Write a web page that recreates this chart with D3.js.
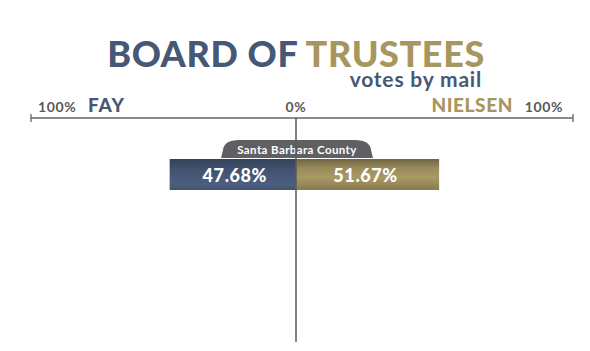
<!DOCTYPE html>
<html>
<head>
<meta charset="utf-8">
<script src="https://cdn.jsdelivr.net/npm/d3@7"></script>
<style>
  body { margin: 0; background: #fff; }
  svg text { font-family: Lato, "Open Sans", sans-serif; }
</style>
</head>
<body>
<div id="chart"></div>
<script>
// Board of Trustees - votes by mail

var width = 590;
var height = 351;

// data
var candidates = ["FAY", "NIELSEN"];
var regions = ["Santa Barbara County"];
var votes = [[47.68, 51.67]];   // one row per region: [fay, nielsen]
var tickLabels = ["100%", "0%", "100%"];

var navy = "#465876";
var gold = "#a89660";

var cx = 296;
var axisY = 118;

var svg = d3.select("#chart")
            .append("svg")
            .attr("width", width)
            .attr("height", height);

var defs = svg.append("defs");
function gradient(id, stops) {
    var g = defs.append("linearGradient").attr("id", id)
                .attr("x1", 0).attr("y1", 0).attr("x2", 0).attr("y2", 1);
    stops.forEach(function(s) {
        g.append("stop").attr("offset", s[0]).attr("stop-color", s[1]);
    });
}
gradient("gFay", [[0, "#34415a"], [0.35, "#42526f"], [0.8, "#4c5f80"], [1, "#435472"]]);
gradient("gNiel", [[0, "#6f6444"], [0.3, "#9a8a5a"], [0.6, "#a99964"], [1, "#877a50"]]);

// title
svg.append("text")
   .attr("x", cx).attr("y", 67)
   .attr("text-anchor", "middle")
   .style("font-size", "36px").style("font-weight", 900)
   .style("letter-spacing", "0.6px")
   .html('<tspan fill="' + navy + '">BOARD OF </tspan><tspan fill="' + gold + '">TRUSTEES</tspan>');

svg.append("text")
   .attr("x", 482).attr("y", 87)
   .attr("text-anchor", "end")
   .attr("fill", navy)
   .style("font-size", "21px").style("font-weight", 700)
   .style("letter-spacing", "0.8px")
   .text("votes by mail");

// scales: left side for fay, right side for nielsen
var xLeft = d3.scaleLinear().domain([0, 100]).range([cx, 31]);
var xRight = d3.scaleLinear().domain([0, 100]).range([cx, 573]);

// axis line
var axis = svg.append("g").attr("stroke", "#666").attr("stroke-width", 1.3);
axis.append("line")
    .attr("x1", xLeft(100)).attr("x2", xRight(100))
    .attr("y1", axisY).attr("y2", axisY);
axis.selectAll(".tick")
    .data([xLeft(100), xRight(100)])
    .enter().append("line")
    .attr("x1", function(d) { return d; }).attr("x2", function(d) { return d; })
    .attr("y1", axisY - 4).attr("y2", axisY + 4);

// tick labels
var lbl = svg.append("g").attr("fill", "#595959")
             .style("font-size", "14px").style("font-weight", 700)
             .style("letter-spacing", "0.6px");
lbl.append("text").attr("x", xLeft(100) + 7).attr("y", axisY - 6).text(tickLabels[0]);
lbl.append("text").attr("x", cx).attr("y", axisY - 6).attr("text-anchor", "middle").text(tickLabels[1]);
lbl.append("text").attr("x", xRight(100) - 10).attr("y", axisY - 6).attr("text-anchor", "end").text(tickLabels[2]);

svg.append("text").attr("x", xLeft(100) + 57).attr("y", axisY - 6)
   .attr("fill", navy).style("font-size", "19px").style("font-weight", 900)
   .style("letter-spacing", "1px")
   .text(candidates[0]);
svg.append("text").attr("x", xRight(100) - 60).attr("y", axisY - 6)
   .attr("text-anchor", "end")
   .attr("fill", gold).style("font-size", "19px").style("font-weight", 900)
   .style("letter-spacing", "0.6px")
   .text(candidates[1]);

// rows
var y = d3.scaleBand().domain(regions).range([158, 158 + 60 * regions.length]);
var barH = 31;

var row = svg.selectAll(".row")
             .data(regions)
             .enter().append("g")
             .attr("transform", function(d) { return "translate(0," + y(d) + ")"; });

// region tab
var tabW = 148, tabH = 18, r = 10;
row.append("path")
   .attr("fill", "#606064")
   .attr("d", function() {
       var x0 = cx - tabW / 2 + 1, x1 = cx + tabW / 2 + 1;
       return "M" + (x0 - 2) + ",0 L" + x0 + "," + (-tabH + r) +
              " Q" + (x0 + 1) + "," + (-tabH) + " " + (x0 + r + 6) + "," + (-tabH) +
              " L" + (x1 - r - 6) + "," + (-tabH) +
              " Q" + (x1 - 1) + "," + (-tabH) + " " + x1 + "," + (-tabH + r) +
              " L" + (x1 + 2) + ",0 Z";
   });
row.append("text")
   .attr("x", cx + 1).attr("y", -4.5)
   .attr("text-anchor", "middle").attr("fill", "#fff")
   .style("font-size", "11.5px").style("font-weight", 700)
   .style("letter-spacing", "0.4px")
   .text(function(d) { return d; });

// bars
row.append("rect")
   .attr("x", function(d, i) { return xLeft(votes[i][0]); })
   .attr("y", 1)
   .attr("width", function(d, i) { return cx - xLeft(votes[i][0]); })
   .attr("height", barH)
   .attr("fill", "url(#gFay)");
row.append("rect")
   .attr("x", cx)
   .attr("y", 1)
   .attr("width", function(d, i) { return xRight(votes[i][1]) - cx; })
   .attr("height", barH)
   .attr("fill", "url(#gNiel)");

row.append("text")
   .attr("x", function(d, i) { return (xLeft(votes[i][0]) + cx) / 2 + 2; })
   .attr("y", 24)
   .attr("text-anchor", "middle").attr("fill", "#fff")
   .style("font-size", "18px").style("font-weight", 900)
   .style("letter-spacing", "0.6px")
   .text(function(d, i) { return votes[i][0].toFixed(2) + "%"; });
row.append("text")
   .attr("x", function(d, i) { return (xRight(votes[i][1]) + cx) / 2 - 2; })
   .attr("y", 24)
   .attr("text-anchor", "middle").attr("fill", "#fff")
   .style("font-size", "18px").style("font-weight", 900)
   .style("letter-spacing", "0.6px")
   .text(function(d, i) { return votes[i][1].toFixed(2) + "%"; });

// center line on top
svg.append("line")
   .attr("x1", cx).attr("x2", cx)
   .attr("y1", axisY).attr("y2", 342)
   .attr("stroke", "#5a5a5a").attr("stroke-width", 1.5);
</script>
</body>
</html>
